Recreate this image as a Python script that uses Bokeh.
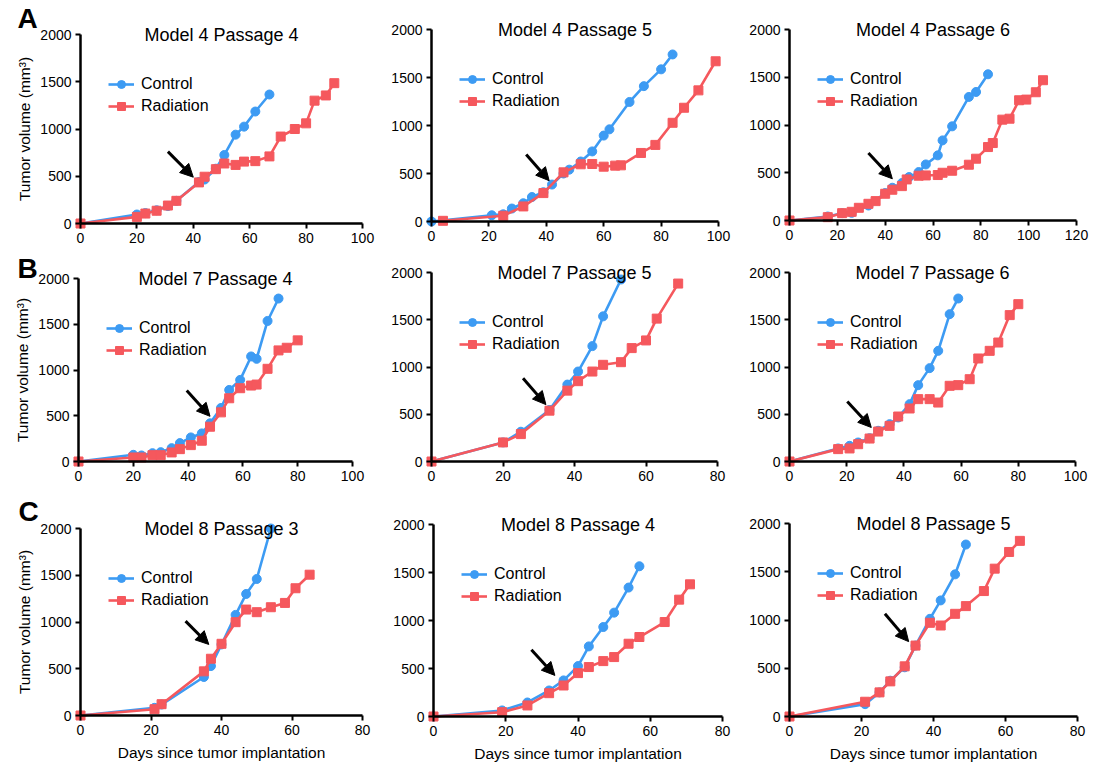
from bokeh.plotting import figure
from bokeh.models import Range1d, Legend, LegendItem, Label, Arrow, NormalHead, FixedTicker
from bokeh.layouts import column, row
from bokeh.embed import file_html
from bokeh.resources import INLINE

BLUE = "#3D9BF3"
RED = "#F5585D"
FONT = "Liberation Sans"

# ---------------- data ----------------
# Model 4 Passage 4
a1_title = "Model 4 Passage 4"
a1_xmax = 100
a1_ctrl_x = [0, 20, 23, 27, 31, 34, 42, 44, 48, 51, 55, 58, 62, 67]
a1_ctrl_y = [0, 95, 110, 140, 185, 240, 440, 465, 580, 725, 940, 1025, 1185, 1365]
a1_rad_x = [0, 20, 23, 27, 31, 34, 42, 44, 48, 51, 55, 58, 62, 67, 71, 76, 80, 83, 87, 90]
a1_rad_y = [0, 70, 105, 135, 190, 240, 435, 495, 575, 635, 620, 655, 660, 710, 920, 1000, 1060, 1300, 1355, 1485]
a1_arrow = [31, 760, 40, 490]

# Model 4 Passage 5
a2_title = "Model 4 Passage 5"
a2_xmax = 100
a2_ctrl_x = [0, 21, 25, 28, 32, 35, 39, 42, 46, 48, 52, 56, 60, 62, 69, 74, 80, 84]
a2_ctrl_y = [0, 65, 75, 135, 190, 255, 305, 385, 500, 540, 625, 730, 895, 960, 1245, 1410, 1585, 1740]
a2_rad_x = [4, 25, 32, 39, 46, 52, 56, 60, 64, 66, 73, 78, 84, 88, 93, 99]
a2_rad_y = [7, 60, 157, 296, 512, 596, 599, 571, 582, 585, 714, 798, 1028, 1185, 1366, 1669]
a2_arrow = [33, 697, 41, 425]

# Model 4 Passage 6
a3_title = "Model 4 Passage 6"
a3_xmax = 120
a3_ctrl_x = [0, 16, 22, 26, 33, 40, 43, 47, 50, 54, 57, 62, 64, 68, 75, 78, 83]
a3_ctrl_y = [0, 42, 77, 80, 157, 287, 343, 392, 455, 507, 587, 682, 839, 986, 1294, 1346, 1531]
a3_rad_x = [0, 16, 22, 26, 29, 33, 36, 40, 43, 47, 49, 54, 57, 62, 64, 68, 75, 78, 83, 85, 89, 92, 96, 99, 103, 106]
a3_rad_y = [0, 35, 77, 91, 133, 175, 203, 280, 322, 360, 430, 469, 472, 476, 500, 521, 584, 647, 769, 811, 1056, 1066, 1259, 1266, 1343, 1469]
a3_arrow = [33, 706, 43, 437]

# Model 7 Passage 4
b1_title = "Model 7 Passage 4"
b1_xmax = 100
b1_ctrl_x = [0, 20, 23, 27, 30, 34, 37, 41, 45, 48, 52, 55, 59, 63, 65, 69, 73]
b1_ctrl_y = [0, 73, 66, 91, 102, 146, 201, 263, 307, 417, 585, 782, 892, 1148, 1122, 1536, 1781]
b1_rad_x = [0, 20, 23, 27, 30, 34, 37, 41, 45, 48, 52, 55, 59, 63, 65, 69, 73, 76, 80]
b1_rad_y = [0, 44, 44, 69, 69, 99, 135, 179, 227, 380, 537, 691, 801, 830, 841, 1013, 1214, 1243, 1324]
b1_arrow = [39.5, 775, 48, 494]

# Model 7 Passage 5
b2_title = "Model 7 Passage 5"
b2_xmax = 80
b2_ctrl_x = [0, 20, 25, 33, 38, 41, 45, 48, 53]
b2_ctrl_y = [0, 202, 315, 545, 814, 952, 1221, 1536, 1926]
b2_rad_x = [0, 20, 25, 33, 38, 41, 45, 48, 53, 56, 60, 63, 69]
b2_rad_y = [0, 202, 290, 538, 750, 850, 952, 1023, 1051, 1200, 1281, 1512, 1883]
b2_arrow = [25.6, 881, 32, 602]

# Model 7 Passage 6
b3_title = "Model 7 Passage 6"
b3_xmax = 100
b3_ctrl_x = [0, 17, 21, 24, 28, 31, 35, 38, 42, 45, 49, 52, 56, 59]
b3_ctrl_y = [0, 138, 166, 201, 247, 325, 395, 466, 607, 808, 988, 1171, 1559, 1725]
b3_rad_x = [0, 17, 21, 24, 28, 31, 35, 38, 42, 45, 49, 52, 56, 59, 63, 66, 70, 73, 77, 80]
b3_rad_y = [0, 131, 138, 183, 243, 317, 377, 476, 561, 660, 660, 624, 801, 808, 871, 1090, 1171, 1259, 1549, 1665]
b3_arrow = [20.2, 635, 28.6, 360]

# Model 8 Passage 3
c1_title = "Model 8 Passage 3"
c1_xmax = 80
c1_ctrl_x = [0, 21, 23, 35, 37, 40, 44, 47, 50, 54]
c1_ctrl_y = [0, 82, 117, 412, 529, 760, 1076, 1300, 1460, 2000]
c1_rad_x = [0, 21, 23, 35, 37, 40, 44, 47, 50, 54, 58, 61, 65]
c1_rad_y = [0, 67, 121, 472, 607, 767, 998, 1133, 1105, 1158, 1204, 1361, 1506]
c1_arrow = [29.8, 1009, 36.4, 760]

# Model 8 Passage 4
c2_title = "Model 8 Passage 4"
c2_xmax = 80
c2_ctrl_x = [0, 19, 26, 32, 36, 40, 43, 47, 50, 54, 57]
c2_ctrl_y = [0, 63, 146, 271, 376, 525, 730, 932, 1082, 1343, 1565]
c2_rad_x = [0, 19, 26, 32, 36, 40, 43, 47, 50, 54, 57, 64, 68, 71]
c2_rad_y = [0, 45, 115, 243, 323, 452, 515, 577, 619, 758, 828, 984, 1217, 1377]
c2_arrow = [27.1, 696, 33.6, 428]

# Model 8 Passage 5
c3_title = "Model 8 Passage 5"
c3_xmax = 80
c3_ctrl_x = [0, 21, 25, 28, 32, 35, 39, 42, 46, 49]
c3_ctrl_y = [0, 128, 250, 371, 510, 735, 1012, 1203, 1473, 1782]
c3_rad_x = [0, 21, 25, 28, 32, 35, 39, 42, 46, 49, 54, 57, 61, 64]
c3_rad_y = [0, 153, 250, 364, 520, 735, 971, 943, 1064, 1144, 1300, 1532, 1705, 1820]
c3_arrow = [26.5, 1064, 33.1, 776]

y_max = 2000
y_ticks = [0, 500, 1000, 1500, 2000]
legend_labels = ["Control", "Radiation"]
y_axis_title = "Tumor volume (mm\u00b3)"
x_axis_title = "Days since tumor implantation"
panel_letters = ["A", "B", "C"]


def make_panel(title, xmax, cx, cy, rx, ry, arrow, w, h, geo,
               ylabel=False, xlabel=False, letter=None, letter_pos=None):
    # geo = pixel placement of the axes inside the canvas:
    # (x of day 0, x of last day tick, y of top tick, y of zero)
    x0, xe, yt, y0 = geo
    xs = xmax / (xe - x0)
    ys = y_max / (y0 - yt)
    p = figure(width=w, height=h, output_backend="svg", toolbar_location=None,
               x_range=Range1d(-x0 * xs, (w - x0) * xs),
               y_range=Range1d(-(h - y0) * ys, y0 * ys),
               min_border=0)
    p.outline_line_color = None
    p.grid.visible = False
    for ax in (p.xaxis[0], p.yaxis[0]):
        ax.fixed_location = 0
        ax.axis_line_width = 2.5
        ax.axis_line_color = "black"
        ax.major_tick_line_width = 2
        ax.major_tick_line_color = "black"
        ax.major_tick_out = 5
        ax.major_tick_in = 0
        ax.minor_tick_line_color = None
        ax.major_label_text_font = FONT
        ax.major_label_text_font_size = "14px"
        ax.major_label_text_color = "black"
        ax.major_label_standoff = 4
        ax.axis_label_text_font = FONT
        ax.axis_label_text_font_size = "15.5px"
        ax.axis_label_text_font_style = "normal"
        ax.axis_label_text_color = "black"
    p.xaxis[0].bounds = (0, xmax)
    p.yaxis[0].bounds = (0, y_max)
    p.xaxis[0].ticker = FixedTicker(ticks=list(range(0, xmax + 1, 20)))
    p.yaxis[0].ticker = FixedTicker(ticks=y_ticks)
    if ylabel:
        p.yaxis[0].axis_label = y_axis_title
        p.yaxis[0].axis_label_standoff = 4
    if xlabel:
        p.xaxis[0].axis_label = x_axis_title
        p.xaxis[0].axis_label_standoff = 6

    lc = p.line(cx, cy, line_color=BLUE, line_width=2.6)
    sc = p.scatter(cx, cy, marker="circle", size=9, fill_color=BLUE, line_color=BLUE)
    lr = p.line(rx, ry, line_color=RED, line_width=2.6)
    sr = p.scatter(rx, ry, marker="square", size=9, fill_color=RED, line_color=RED)

    p.add_layout(Arrow(x_start=arrow[0], y_start=arrow[1], x_end=arrow[2], y_end=arrow[3],
                       line_width=3, line_color="black",
                       end=NormalHead(size=13, fill_color="black", line_color="black",
                                      line_width=1)))

    # panel title, centred on the top edge of the axes
    p.add_layout(Label(x=xmax / 2, y=y_max, text=title,
                       text_align="center", text_baseline="middle", text_font=FONT,
                       text_font_size="18px", text_color="black"))

    legend = Legend(items=[LegendItem(label=legend_labels[0], renderers=[lc, sc]),
                           LegendItem(label=legend_labels[1], renderers=[lr, sr])],
                    location=(x0 + 28, h - yt - 82), margin=0, padding=0, spacing=2,
                    glyph_width=26, glyph_height=20, label_height=20,
                    label_standoff=7, label_text_font=FONT,
                    label_text_font_size="16px", label_text_color="black",
                    background_fill_alpha=0, border_line_color=None)
    p.add_layout(legend)

    if letter is not None:
        p.add_layout(Label(x=letter_pos[0], y=h - letter_pos[1], x_units="screen",
                           y_units="screen", text=letter, text_align="center",
                           text_baseline="middle", text_font=FONT,
                           text_font_size="28px", text_font_style="bold",
                           text_color="black"))
    return p


a1 = make_panel(a1_title, a1_xmax, a1_ctrl_x, a1_ctrl_y, a1_rad_x, a1_rad_y, a1_arrow,
                382, 250, (80, 362, 34, 223), ylabel=True, letter=panel_letters[0],
                letter_pos=(27, 18))
a2 = make_panel(a2_title, a2_xmax, a2_ctrl_x, a2_ctrl_y, a2_rad_x, a2_rad_y, a2_arrow,
                360, 250, (49, 336, 29, 221))
a3 = make_panel(a3_title, a3_xmax, a3_ctrl_x, a3_ctrl_y, a3_rad_x, a3_rad_y, a3_arrow,
                360, 250, (47, 334, 29, 220))

b1 = make_panel(b1_title, b1_xmax, b1_ctrl_x, b1_ctrl_y, b1_rad_x, b1_rad_y, b1_arrow,
                382, 240, (78, 352, 28, 211), ylabel=True, letter=panel_letters[1],
                letter_pos=(27, 18))
b2 = make_panel(b2_title, b2_xmax, b2_ctrl_x, b2_ctrl_y, b2_rad_x, b2_rad_y, b2_arrow,
                360, 240, (49, 335, 22, 211))
b3 = make_panel(b3_title, b3_xmax, b3_ctrl_x, b3_ctrl_y, b3_rad_x, b3_rad_y, b3_arrow,
                360, 240, (47, 333, 22, 211))

c1 = make_panel(c1_title, c1_xmax, c1_ctrl_x, c1_ctrl_y, c1_rad_x, c1_rad_y, c1_arrow,
                382, 275, (80, 362, 38, 225), ylabel=True, xlabel=True,
                letter=panel_letters[2], letter_pos=(28, 21))
c2 = make_panel(c2_title, c2_xmax, c2_ctrl_x, c2_ctrl_y, c2_rad_x, c2_rad_y, c2_arrow,
                360, 275, (51, 340, 34, 226), xlabel=True)
c3 = make_panel(c3_title, c3_xmax, c3_ctrl_x, c3_ctrl_y, c3_rad_x, c3_rad_y, c3_arrow,
                360, 275, (47, 335, 33, 226), xlabel=True)

layout = column(row(a1, a2, a3), row(b1, b2, b3), row(c1, c2, c3))

open("out.html", "w").write(file_html(layout, INLINE))
